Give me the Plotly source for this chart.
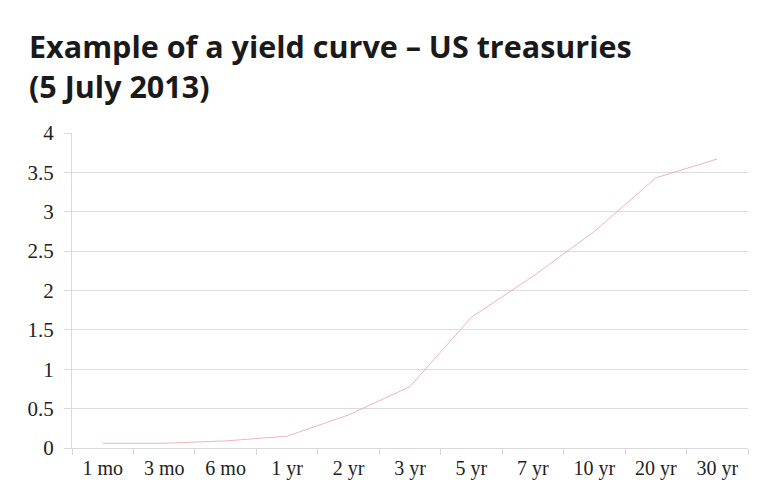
import plotly.graph_objects as go

maturities = ["1 mo", "3 mo", "6 mo", "1 yr", "2 yr", "3 yr", "5 yr", "7 yr", "10 yr", "20 yr", "30 yr"]
yields = [0.06, 0.06, 0.09, 0.15, 0.42, 0.78, 1.66, 2.18, 2.75, 3.43, 3.67]

y_ticks = [0, 0.5, 1, 1.5, 2, 2.5, 3, 3.5, 4]
y_labels = ["0", "0.5", "1", "1.5", "2", "2.5", "3", "3.5", "4"]

# page body has an 8px margin, so the figure is a bit smaller than the window
W, H = 772, 492

fig = go.Figure()
fig.add_trace(go.Scatter(
    x=maturities, y=yields, mode="lines",
    line=dict(color="#eeb4bd", width=1),
    showlegend=False, hoverinfo="x+y"))

fig.update_layout(
    width=W, height=H,
    paper_bgcolor="white", plot_bgcolor="white",
    margin=dict(l=64, r=32, t=125, b=52),
    title=dict(
        text="<b>Example of a yield curve – US treasuries<br>(5 July 2013)</b>",
        x=21 / W, xanchor="left", xref="container",
        y=1 - 50 / H, yanchor="top", yref="container",
        font=dict(family="Open Sans", size=30.5, color="#1a1a1a")),
    font=dict(family="Liberation Serif", size=20, color="#222222"),
)

fig.update_xaxes(
    type="category", range=[-0.5, len(maturities) - 0.5],
    tickson="boundaries", ticks="outside", ticklen=6,
    tickcolor="#d9d9d9", showline=True, linecolor="#d9d9d9", linewidth=1,
    showgrid=False, automargin=False, ticklabelstandoff=2,
    tickfont=dict(family="Liberation Serif", size=20))
fig.update_yaxes(
    range=[0, 4], tickvals=y_ticks, ticktext=y_labels,
    ticks="outside", ticklen=7, tickcolor="#d9d9d9",
    showline=True, linecolor="#d9d9d9", linewidth=1,
    showgrid=True, gridcolor="#dcdcdc", gridwidth=1, zeroline=False,
    automargin=False, ticklabelstandoff=6,
    tickfont=dict(family="Liberation Serif", size=21))

fig.write_html("out.html")
